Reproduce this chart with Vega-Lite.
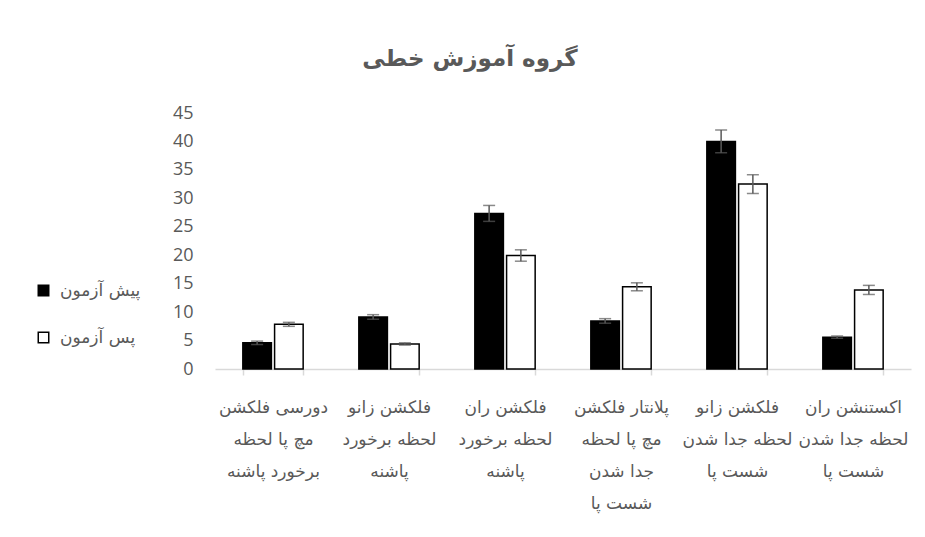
{
  "$schema": "https://vega.github.io/schema/vega-lite/v6.json",
  "width": 696,
  "height": 256,
  "autosize": {"type": "none"},
  "padding": {"left": 215, "top": 113, "right": 14, "bottom": 168},
  "background": "white",
  "config": {
    "view": {"stroke": null},
    "font": "DejaVu Sans"
  },
  "title": {
    "text": "گروه آموزش خطی",
    "anchor": "middle",
    "frame": "group",
    "dx": -93,
    "offset": 33,
    "fontSize": 23,
    "fontWeight": "bold",
    "color": "#595959",
    "font": "DejaVu Sans"
  },
  "data": {
    "values": [
      {"category": "دورسی فلکشن|مچ پا لحظه|برخورد پاشنه", "series": "پیش آزمون", "value": 4.6, "lo": 4.3, "hi": 4.9},
      {"category": "دورسی فلکشن|مچ پا لحظه|برخورد پاشنه", "series": "پس آزمون", "value": 7.85, "lo": 7.5, "hi": 8.2},
      {"category": "فلکشن زانو|لحظه برخورد|پاشنه", "series": "پیش آزمون", "value": 9.15, "lo": 8.75, "hi": 9.55},
      {"category": "فلکشن زانو|لحظه برخورد|پاشنه", "series": "پس آزمون", "value": 4.4, "lo": 4.2, "hi": 4.6},
      {"category": "فلکشن ران|لحظه برخورد|پاشنه", "series": "پیش آزمون", "value": 27.35, "lo": 25.95, "hi": 28.75},
      {"category": "فلکشن ران|لحظه برخورد|پاشنه", "series": "پس آزمون", "value": 19.95, "lo": 18.95, "hi": 20.95},
      {"category": "پلانتار فلکشن|مچ پا لحظه|جدا شدن|شست پا", "series": "پیش آزمون", "value": 8.45, "lo": 8.05, "hi": 8.85},
      {"category": "پلانتار فلکشن|مچ پا لحظه|جدا شدن|شست پا", "series": "پس آزمون", "value": 14.45, "lo": 13.75, "hi": 15.15},
      {"category": "فلکشن زانو|لحظه جدا شدن|شست پا", "series": "پیش آزمون", "value": 40.0, "lo": 38.0, "hi": 42.0},
      {"category": "فلکشن زانو|لحظه جدا شدن|شست پا", "series": "پس آزمون", "value": 32.5, "lo": 30.85, "hi": 34.15},
      {"category": "اکستنشن ران|لحظه جدا شدن|شست پا", "series": "پیش آزمون", "value": 5.6, "lo": 5.4, "hi": 5.8},
      {"category": "اکستنشن ران|لحظه جدا شدن|شست پا", "series": "پس آزمون", "value": 13.9, "lo": 13.1, "hi": 14.7}
    ]
  },
  "encoding": {
    "x": {
      "field": "category",
      "type": "nominal",
      "sort": null,
      "title": null,
      "scale": {"paddingInner": 0.48, "paddingOuter": 0.24},
      "axis": {
        "labelExpr": "split(datum.label, '|')",
        "labelAngle": 0,
        "labelFontSize": 17,
        "labelColor": "#595959",
        "labelLineHeight": 32,
        "labelPadding": 24,
        "labelOverlap": false,
        "labelLimit": 200,
        "tickBand": "extent",
        "tickSize": 6,
        "tickColor": "#d9d9d9",
        "tickWidth": 1.5,
        "domainColor": "#d9d9d9",
        "domainWidth": 1.5
      }
    },
    "xOffset": {
      "field": "series",
      "type": "nominal",
      "sort": ["پیش آزمون", "پس آزمون"],
      "scale": {"paddingInner": 0.1}
    },
    "y": {
      "field": "value",
      "type": "quantitative",
      "title": null,
      "scale": {"domain": [0, 45]},
      "axis": {
        "values": [0, 5, 10, 15, 20, 25, 30, 35, 40, 45],
        "labelOverlap": false,
        "domain": false,
        "ticks": false,
        "grid": false,
        "labelFont": "Open Sans",
        "labelFontSize": 18,
        "labelColor": "#595959",
        "labelPadding": 22
      }
    }
  },
  "layer": [
    {
      "mark": {"type": "bar", "stroke": "black", "strokeWidth": 1.5},
      "encoding": {
        "color": {
          "field": "series",
          "type": "nominal",
          "sort": ["پیش آزمون", "پس آزمون"],
          "scale": {"domain": ["پیش آزمون", "پس آزمون"], "range": ["black", "white"]},
          "legend": {
            "title": null,
            "orient": "none",
            "legendX": -180,
            "legendY": 169,
            "symbolType": "square",
            "symbolSize": 110,
            "symbolStrokeColor": "black",
            "symbolStrokeWidth": 1.5,
            "labelFontSize": 17,
            "labelColor": "#595959",
            "rowPadding": 29,
            "labelOffset": 8
          }
        }
      }
    },
    {
      "mark": {"type": "rule", "color": "#595959", "strokeWidth": 1.5},
      "encoding": {
        "y": {"field": "lo", "type": "quantitative"},
        "y2": {"field": "hi"}
      }
    },
    {
      "mark": {"type": "tick", "color": "#595959", "thickness": 1.5, "size": 12},
      "encoding": {
        "y": {"field": "lo", "type": "quantitative"}
      }
    },
    {
      "mark": {"type": "tick", "color": "#595959", "thickness": 1.5, "size": 12},
      "encoding": {
        "y": {"field": "hi", "type": "quantitative"}
      }
    }
  ]
}
